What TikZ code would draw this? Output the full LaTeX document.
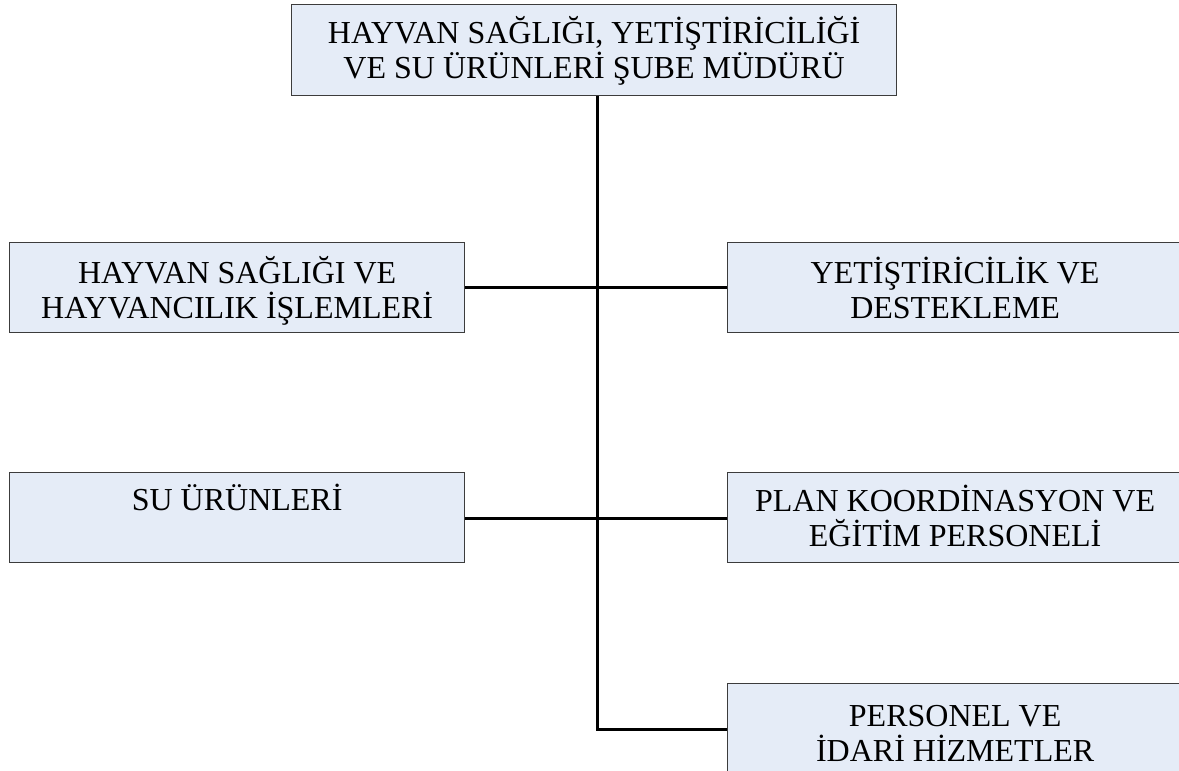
\documentclass[tikz,border=0pt]{standalone}
\usepackage{fontspec}
\setmainfont{Liberation Serif}
\usetikzlibrary{calc}
\definecolor{boxfill}{RGB}{229,236,247}
\definecolor{boxline}{RGB}{60,60,60}
\newcommand{\lblfont}{\fontsize{32}{35.5}\selectfont}
\tikzset{
  orgbox/.style={draw=boxline, line width=1.3pt, fill=boxfill, inner sep=0pt,
    anchor=north west, minimum height=90pt},
  lbl/.style={font=\lblfont, anchor=base, inner sep=0pt},
  conn/.style={line width=3pt, black}
}
\begin{document}
\begin{tikzpicture}[x=1pt,y=-1pt]
\useasboundingbox (0,0) rectangle (1179,771);
\clip (0,0) rectangle (1179,771);
% boxes
\node[orgbox, minimum width=605pt, minimum height=91pt] (top) at (291,4) {};
\node[orgbox, minimum width=455pt] (hs) at (9,242) {};
\node[orgbox, minimum width=455pt] (yd) at (727,242) {};
\node[orgbox, minimum width=455pt] (su) at (9,472) {};
\node[orgbox, minimum width=455pt] (pk) at (727,472) {};
\node[orgbox, minimum width=455pt] (pi) at (727,683) {};
% labels
\node[lbl] (ttop) at ($(top.north)+(0,39.5)$) {\parbox[t]{600pt}{\centering HAYVAN SAĞLIĞI, YETİŞTİRİCİLİĞİ\\VE SU ÜRÜNLERİ ŞUBE MÜDÜRÜ}};
\node[lbl] (ths) at ($(hs.north)+(0,41)$) {\parbox[t]{450pt}{\centering HAYVAN SAĞLIĞI VE\\HAYVANCILIK İŞLEMLERİ}};
\node[lbl] (tyd) at ($(yd.north)+(0,41)$) {\parbox[t]{450pt}{\centering YETİŞTİRİCİLİK VE\\DESTEKLEME}};
\node[lbl] (tsu) at ($(su.north)+(0,38)$) {SU ÜRÜNLERİ};
\node[lbl] (tpk) at ($(pk.north)+(0,39)$) {\parbox[t]{450pt}{\centering PLAN KOORDİNASYON VE\\EĞİTİM PERSONELİ}};
\node[lbl] (tpi) at ($(pi.north)+(0,43)$) {\parbox[t]{450pt}{\centering PERSONEL VE\\İDARİ HİZMETLER}};
% connectors
\coordinate (j1) at (597,287);
\coordinate (j2) at (597,518.7);
\coordinate (j3) at (597,729);
\draw[conn] (top.south -| j1) -- (j3) -- (j3 -| pi.west);
\draw[conn] (hs.east |- j1) -- (yd.west |- j1);
\draw[conn] (su.east |- j2) -- (pk.west |- j2);
\end{tikzpicture}
\end{document}
